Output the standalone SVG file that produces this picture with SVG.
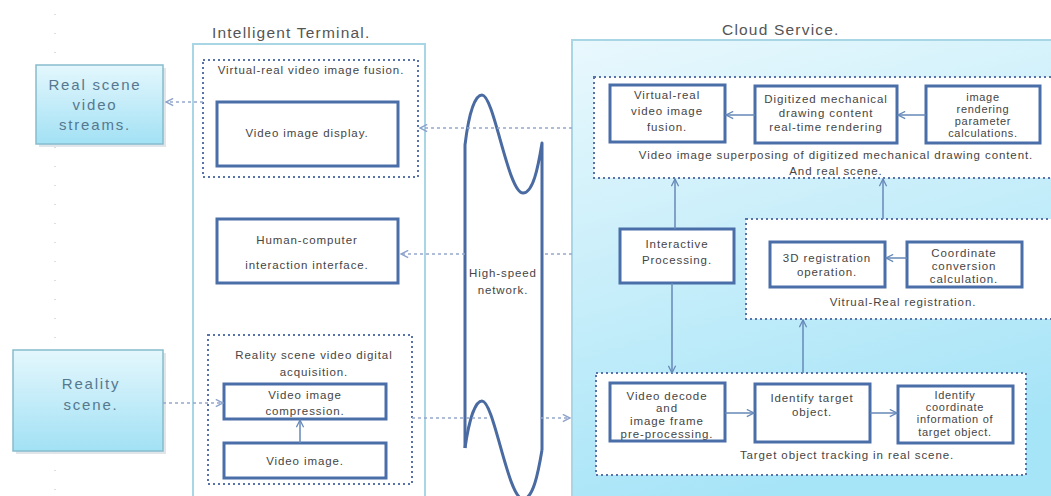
<svg xmlns="http://www.w3.org/2000/svg" width="1051" height="496" viewBox="0 0 1051 496">
<style>
text{font-family:"Liberation Sans","DejaVu Sans",sans-serif;fill:#454545;text-anchor:middle}
.t{font-size:11.5px;letter-spacing:0.9px}
.s{font-size:11px;letter-spacing:0.7px}
.title{font-size:15.5px;letter-spacing:1.2px;fill:#555;text-anchor:start}
.big{font-size:15px;letter-spacing:1.8px;fill:#56788f}
.box{fill:#fff;stroke:#4a6ea8;stroke-width:3}
.dot{fill:#fff;stroke:#5872aa;stroke-width:2;stroke-dasharray:2 3}
.outer{stroke:#a8d6e4;stroke-width:2}
.dc{fill:none;stroke:#97a8cc;stroke-width:1.5;stroke-dasharray:3 3}
.sc{fill:none;stroke:#6688b8;stroke-width:1.5}
.net{fill:none;stroke:#4a6aa2;stroke-width:3;stroke-linejoin:round}
</style>
<defs>
<linearGradient id="cloudG" x1="0" y1="0" x2="0.3" y2="1">
<stop offset="0" stop-color="#e9f8fd"/>
<stop offset="1" stop-color="#a6e4f7"/>
</linearGradient>
<linearGradient id="srcG" x1="0" y1="0" x2="0" y2="1">
<stop offset="0" stop-color="#e4f7fd"/>
<stop offset="1" stop-color="#a2e1f4"/>
</linearGradient>
<marker id="ad" viewBox="0 0 10 10" refX="9" refY="5" markerWidth="9" markerHeight="9" orient="auto" markerUnits="userSpaceOnUse">
<path d="M1,1 L9,5 L1,9" fill="none" stroke="#8ea3cc" stroke-width="1.6"/>
</marker>
<marker id="as" viewBox="0 0 10 10" refX="9" refY="5" markerWidth="9" markerHeight="9" orient="auto" markerUnits="userSpaceOnUse">
<path d="M1,1 L9,5 L1,9" fill="none" stroke="#6688b8" stroke-width="1.4"/>
</marker>
</defs>
<rect width="1051" height="496" fill="#fff"/>
<line x1="55" y1="14" x2="55" y2="496" stroke="#d4d4d4" stroke-width="1.5" stroke-dasharray="1 18"/>

<g id="cloud-service">
<rect x="572" y="40" width="490" height="470" fill="url(#cloudG)" class="outer"/>
<text class="title" x="722" y="35">Cloud Service.</text>
</g>
<g id="intelligent-terminal">
<rect x="193" y="44" width="232" height="470" fill="#fff" class="outer"/>
<text class="title" x="212" y="38">Intelligent Terminal.</text>
</g>

<g id="real-scene-video-streams">
<rect x="39" y="68" width="127" height="79" fill="#c9d4d8" opacity="0.6"/>
<rect x="36" y="65" width="127" height="79" fill="url(#srcG)" stroke="#86bccd" stroke-width="1.5"/>
<text class="big" x="95" y="90">Real scene</text>
<text class="big" x="95" y="110">video</text>
<text class="big" x="95" y="130">streams.</text>
</g>
<g id="reality-scene">
<rect x="16" y="353" width="150" height="101" fill="#c9d4d8" opacity="0.6"/>
<rect x="13" y="350" width="150" height="101" fill="url(#srcG)" stroke="#86bccd" stroke-width="1.5"/>
<text class="big" x="91" y="389">Reality</text>
<text class="big" x="91" y="410">scene.</text>
</g>

<g id="virtual-real-video-image-fusion-group">
<rect class="dot" x="203" y="60" width="215" height="117"/>
<text class="t" x="311" y="74">Virtual-real video image fusion.</text>
</g>
<g id="video-image-display">
<rect class="box" x="217" y="102" width="181" height="64"/>
<text class="t" x="307" y="137">Video image display.</text>
</g>
<g id="human-computer-interaction-interface">
<rect class="box" x="217" y="219" width="181" height="64"/>
<text class="t" x="307" y="244">Human-computer</text>
<text class="t" x="307" y="269">interaction interface.</text>
</g>
<g id="reality-scene-video-digital-acquisition">
<rect class="dot" x="208" y="335" width="204" height="149"/>
<text class="t" x="314" y="359">Reality scene video digital</text>
<text class="t" x="314" y="376">acquisition.</text>
</g>
<g id="video-image-compression">
<rect class="box" x="224" y="384" width="162" height="35"/>
<text class="t" x="305" y="399">Video image</text>
<text class="t" x="305" y="415">compression.</text>
</g>
<g id="video-image">
<rect class="box" x="224" y="443" width="162" height="35"/>
<text class="t" x="305" y="465">Video image.</text>
</g>

<g id="high-speed-network">
<path class="net" d="M465,448 L465,145 C469,112 475,95 482,95 C494,95 508,193 523,193 C533,193 538,168 542,143 L542,450"/>
<path class="net" d="M465,448 C469,420 475,401 482,401 C494,401 508,499 523,499 C533,499 538,474 542,450"/>
<text class="t" x="503" y="277">High-speed</text>
<text class="t" x="503" y="294">network.</text>
</g>

<g id="video-image-superposing-group">
<rect class="dot" x="594" y="77" width="470" height="101"/>
<text class="t" x="836" y="159">Video image superposing of digitized mechanical drawing content.</text>
<text class="t" x="836" y="175">And real scene.</text>
</g>
<g id="virtual-real-video-image-fusion">
<rect class="box" x="610" y="85" width="115" height="57"/>
<text class="t" x="667" y="99">Virtual-real</text>
<text class="t" x="667" y="115">video image</text>
<text class="t" x="667" y="131">fusion.</text>
</g>
<g id="digitized-drawing-rendering">
<rect class="box" x="755" y="86" width="142" height="57"/>
<text class="t" x="826" y="103">Digitized mechanical</text>
<text class="t" x="826" y="117">drawing content</text>
<text class="t" x="826" y="131">real-time rendering</text>
</g>
<g id="image-rendering-parameter-calculations">
<rect class="box" x="926" y="86" width="114" height="57"/>
<text class="s" x="983" y="101">image</text>
<text class="s" x="983" y="113">rendering</text>
<text class="s" x="983" y="125">parameter</text>
<text class="s" x="983" y="137">calculations.</text>
</g>
<g id="interactive-processing">
<rect class="box" x="620" y="229" width="114" height="54"/>
<text class="t" x="677" y="248">Interactive</text>
<text class="t" x="677" y="264">Processing.</text>
</g>
<g id="virtual-real-registration-group">
<rect class="dot" x="746" y="219" width="318" height="100"/>
<text class="t" x="903" y="306">Vitrual-Real registration.</text>
</g>
<g id="3d-registration-operation">
<rect class="box" x="770" y="242" width="115" height="45"/>
<text class="t" x="827" y="262">3D registration</text>
<text class="t" x="827" y="276">operation.</text>
</g>
<g id="coordinate-conversion-calculation">
<rect class="box" x="907" y="242" width="115" height="45"/>
<text class="t" x="964" y="257">Coordinate</text>
<text class="t" x="964" y="270">conversion</text>
<text class="t" x="964" y="283">calculation.</text>
</g>
<g id="target-object-tracking-group">
<rect class="dot" x="596" y="373" width="430" height="102"/>
<text class="t" x="847" y="459">Target object tracking in real scene.</text>
</g>
<g id="video-decode-preprocessing">
<rect class="box" x="610" y="383" width="115" height="58"/>
<text class="t" x="667" y="400">Video decode</text>
<text class="t" x="667" y="412">and</text>
<text class="t" x="667" y="425">image frame</text>
<text class="t" x="667" y="438">pre-processing.</text>
</g>
<g id="identify-target-object">
<rect class="box" x="755" y="384" width="115" height="58"/>
<text class="t" x="812" y="402">Identify target</text>
<text class="t" x="812" y="416">object.</text>
</g>
<g id="identify-coordinate-information">
<rect class="box" x="898" y="386" width="115" height="57"/>
<text class="s" x="955" y="399">Identify</text>
<text class="s" x="955" y="411">coordinate</text>
<text class="s" x="955" y="423">information of</text>
<text class="s" x="955" y="436">target object.</text>
</g>

<g id="connectors">
<path class="dc" d="M203,102 L166,102" marker-end="url(#ad)"/>
<path class="dc" d="M572,128 L420,128" marker-end="url(#ad)"/>
<path class="dc" d="M572,254 L542,254 M465,254 L401,254" marker-end="url(#ad)"/>
<path class="dc" d="M412,418 L490,418 M540,418 L570,418" marker-end="url(#ad)"/>
<path class="dc" d="M163,403 L223,403" marker-end="url(#ad)"/>
<path class="sc" d="M300,443 L300,420" marker-end="url(#as)"/>
<path class="sc" d="M926,115 L898,115" marker-end="url(#as)"/>
<path class="sc" d="M755,115 L726,115" marker-end="url(#as)"/>
<path class="sc" d="M675,229 L675,179" marker-end="url(#as)"/>
<path class="sc" d="M883,219 L883,179" marker-end="url(#as)"/>
<path class="sc" d="M672,283 L672,373" marker-end="url(#as)"/>
<path class="sc" d="M803,373 L803,320" marker-end="url(#as)"/>
<path class="sc" d="M907,258 L886,258" marker-end="url(#as)"/>
<path class="sc" d="M725,413 L754,413" marker-end="url(#as)"/>
<path class="sc" d="M870,413 L897,413" marker-end="url(#as)"/>
</g>
</svg>
